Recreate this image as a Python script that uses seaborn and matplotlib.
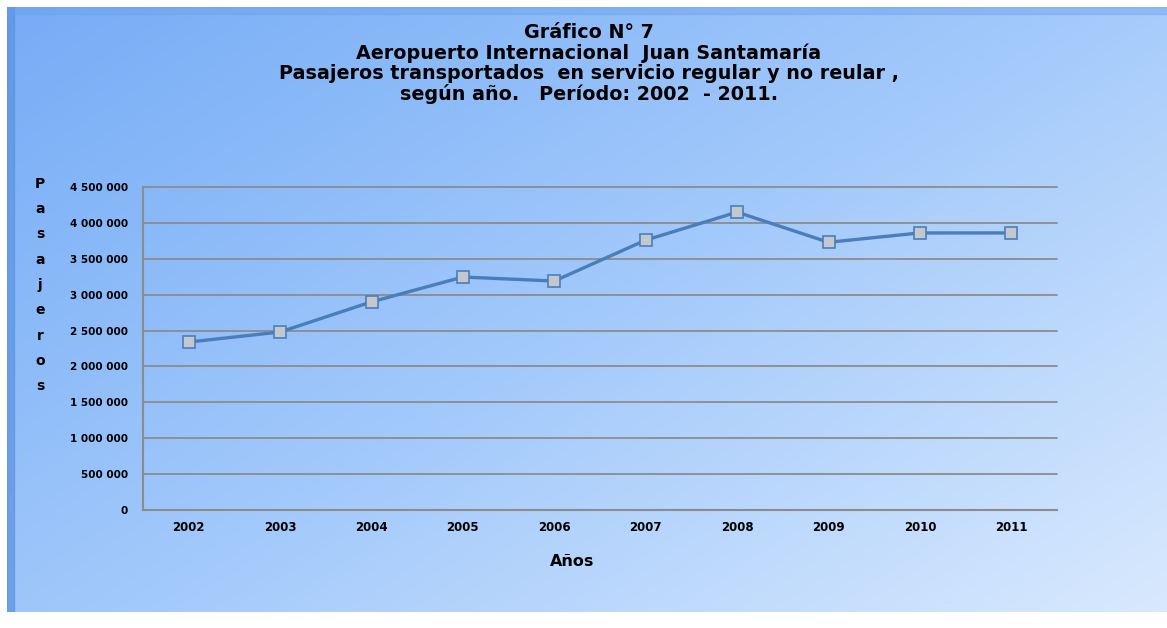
import numpy as np
import pandas as pd
import matplotlib
matplotlib.use("Agg")
import matplotlib.pyplot as plt
from matplotlib.colors import LinearSegmentedColormap
import seaborn as sns

years = ["2002", "2003", "2004", "2005", "2006", "2007", "2008", "2009", "2010", "2011"]
pasajeros = [2340000, 2480000, 2900000, 3246000, 3190000, 3760000, 4150000, 3730000, 3860000, 3860000]
y_ticks = [0, 500000, 1000000, 1500000, 2000000, 2500000, 3000000, 3500000, 4000000, 4500000]

title_lines = [
    "Gráfico N° 7",
    "Aeropuerto Internacional  Juan Santamaría",
    "Pasajeros transportados  en servicio regular y no reular ,",
    "según año.   Período: 2002  - 2011.",
]

df = pd.DataFrame({"Año": years, "Pasajeros": pasajeros})

sns.set_style("white")
plt.rcParams["font.family"] = ["DejaVu Sans"]
plt.rcParams["text.color"] = "black"
plt.rcParams["xtick.color"] = "black"
plt.rcParams["ytick.color"] = "black"

W, H = 1167, 628
fig = plt.figure(figsize=(W / 100, H / 100), dpi=100)
fig.patch.set_facecolor("white")

# background gradient panel
bg = fig.add_axes([7 / W, 1 - 612 / H, 1160 / W, 605 / H])
gx, gy = np.meshgrid(np.linspace(0, 1, 300), np.linspace(0, 1, 200))
grad = 0.55 * gx + 0.45 * gy
cmap = LinearSegmentedColormap.from_list("bg", ["#76acf6", "#a2c9fb", "#d8e9fe"])
bg.imshow(grad, cmap=cmap, aspect="auto", extent=[0, 1, 1, 0], origin="upper")
bg.axvspan(0, 0.006, color="#5c92e2", alpha=0.7)
bg.axhspan(0, 0.012, color="#6d9fe8", alpha=0.4)
bg.set_xlim(0, 1)
bg.set_ylim(1, 0)
bg.axis("off")

# main plot
ax = fig.add_axes([143 / W, 1 - 510 / H, 914 / W, 323 / H])
ax.patch.set_alpha(0)
sns.lineplot(data=df, x="Año", y="Pasajeros", ax=ax, color="#4a7ebb", linewidth=2.4,
             marker="s", markersize=8, markerfacecolor="#c4c8cc",
             markeredgecolor="#4a7ebb", markeredgewidth=1.2, zorder=3)

ax.set_xlim(-0.5, len(years) - 0.5)
ax.set_ylim(0, 4500000)
ax.set_yticks(y_ticks)
ax.set_yticklabels([f"{v:,}".replace(",", " ") for v in y_ticks],
                   fontsize=7.5, fontweight="bold")
ax.set_xticks(range(len(years)))
ax.set_xticklabels(years, fontsize=8.5, fontweight="bold")
ax.set_xticks(np.arange(-0.5, len(years)), minor=True)
ax.tick_params(axis="x", which="major", length=0, pad=8)
ax.tick_params(axis="x", which="minor", length=4, color="#8c8c8c", width=1.2, direction="out")
ax.tick_params(axis="y", length=4, color="#8c8c8c", width=1.2, pad=7)
ax.yaxis.grid(True, color="#8c8c8c", linewidth=1.3)
for gl in ax.yaxis.get_gridlines():
    gl.set_clip_on(False)
ax.set_axisbelow(True)
for s in ["top", "right"]:
    ax.spines[s].set_visible(False)
for s in ["left", "bottom"]:
    ax.spines[s].set_color("#8c8c8c")
    ax.spines[s].set_linewidth(1.5)
ax.set_xlabel("")
ax.set_ylabel("")

# titles
for i, line in enumerate(title_lines):
    fig.text(589 / W, 1 - (33 + i * 20.3) / H, line, ha="center", va="center",
             fontsize=13.8, fontweight="bold")

fig.text(572 / W, 1 - 562 / H, "Años", ha="center", va="center",
         fontsize=11.5, fontweight="bold")
fig.text(40 / W, 1 - 285 / H, "\n".join("Pasajeros"), ha="center", va="center",
         fontsize=10, fontweight="bold", linespacing=2.03)

fig.savefig("out.png", dpi=100)
